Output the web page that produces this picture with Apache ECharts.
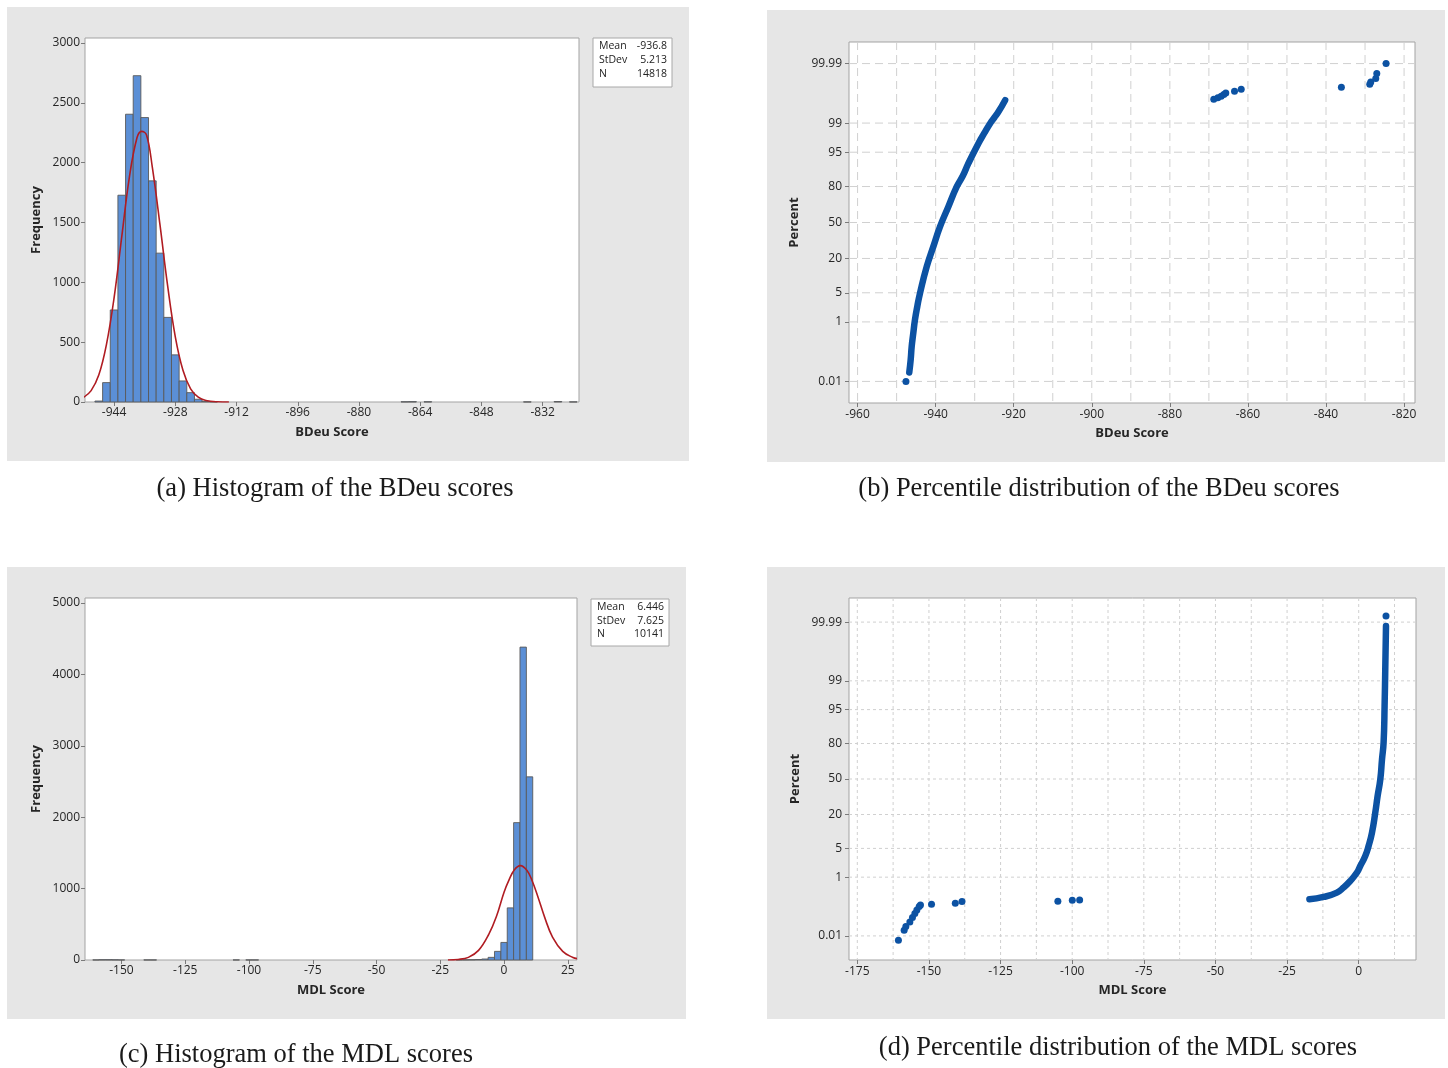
<!DOCTYPE html>
<html><head><meta charset="utf-8">
<script src="https://cdn.jsdelivr.net/npm/echarts@6/dist/echarts.min.js"></script>
<style>
html,body{margin:0;padding:0;background:#fff}
#wrap{position:relative;width:1448px;height:1068px}
.panel{position:absolute;background:#e6e6e6}
#c{position:absolute;left:0;top:0;width:1448px;height:1068px}
</style>
</head><body><div id="wrap">
<div class="panel" style="left:7px;top:7px;width:682px;height:454px"></div>
<div class="panel" style="left:767px;top:10px;width:678px;height:452px"></div>
<div class="panel" style="left:7px;top:567px;width:679px;height:452px"></div>
<div class="panel" style="left:767px;top:567px;width:678px;height:452px"></div>
<div id="c"></div></div>
<script>
// ---------- (a) Histogram of BDeu scores ----------
const bdeuBins   = [-948, -946, -944, -942, -940, -938, -936, -934, -932, -930, -928, -926, -924, -922, -920, -918, -868, -866, -862, -836, -828, -824];
const bdeuCounts = [8, 162, 769, 1728, 2405, 2727, 2377, 1848, 1244, 707, 394, 176, 78, 23, 5, 2, 2, 3, 2, 1, 4, 1];
const bdeuBinWidth = 2;
const bdeuFitX = [-952, -950, -948, -946, -944, -942, -940, -938, -936.8, -935.5, -934, -932, -930, -928, -926, -924, -922, -920, -917, -914];
const bdeuFitY = [38, 95, 225, 480, 870, 1380, 1880, 2210, 2262, 2230, 1960, 1480, 970, 545, 265, 110, 40, 13, 2, 0];
const bdeuHistTicksX = [-944, -928, -912, -896, -880, -864, -848, -832];
const bdeuHistTicksY = [0, 500, 1000, 1500, 2000, 2500, 3000];
const bdeuStatLabels = ['Mean', 'StDev', 'N'];
const bdeuStatValues = ['-936.8', '5.213', '14818'];

// ---------- (b) Percentile plot of BDeu scores ----------
const bdeuCurveScore = [-946.76, -946.40, -946.14, -945.73, -945.30, -944.71, -944.01, -942.29, -940.60, -938.88, -936.75, -934.60, -933.00, -931.62, -929.05, -927.59, -926.05, -924.95, -923.92, -922.20];
const bdeuCurvePct   = [0.0225, 0.0657, 0.185, 0.481, 1.136, 2.46, 4.91, 15.08, 28.6, 46.1, 64.4, 79.9, 86.4, 91.67, 96.79, 98.14, 98.98, 99.30, 99.52, 99.79];
const bdeuDotScore = [-947.61, -868.75, -867.72, -866.85, -866.18, -865.67, -863.44, -861.72, -836.06, -828.79, -828.53, -827.25, -826.99, -824.61];
const bdeuDotPct   = [0.00996, 99.805, 99.823, 99.844, 99.863, 99.879, 99.894, 99.909, 99.923, 99.939, 99.950, 99.962, 99.9755, 99.990];
const bdeuPctTicksX = [-960, -940, -920, -900, -880, -860, -840, -820];
const bdeuPctGridX  = [-960, -950, -940, -930, -920, -910, -900, -890, -880, -870, -860, -850, -840, -830, -820];

// ---------- (c) Histogram of MDL scores ----------
const mdlBins   = [-160, -157.5, -155, -152.5, -150, -140, -137.5, -105, -100, -97.5, -17.5, -15, -12.5, -10, -7.5, -5, -2.5, 0, 2.5, 5, 7.5, 10];
const mdlCounts = [1, 4, 4, 3, 1, 1, 1, 1, 1, 1, 2, 3, 4, 7, 14, 37, 121, 246, 730, 1924, 4382, 2565];
const mdlBinWidth = 2.5;
const mdlFitX = [-22, -18, -14, -10, -6, -3, 0, 2, 4, 6.4, 9, 11, 13, 16, 19, 23, 27, 28.6];
const mdlFitY = [1, 8, 37, 135, 360, 610, 950, 1125, 1262, 1322, 1254, 1110, 915, 590, 320, 120, 35, 19];
const mdlHistTicksX = [-150, -125, -100, -75, -50, -25, 0, 25];
const mdlHistTicksY = [0, 1000, 2000, 3000, 4000, 5000];
const mdlStatLabels = ['Mean', 'StDev', 'N'];
const mdlStatValues = ['6.446', '7.625', '10141'];

// ---------- (d) Percentile plot of MDL scores ----------
const mdlCurveScore = [-17.20, -12.30, -7.61, -5.30, -2.96, -0.61, 0.54, 2.29, 3.45, 4.64, 5.79, 6.60, 7.54, 8.14, 8.69, 9.04, 9.29, 9.53];
const mdlCurvePct   = [0.218, 0.259, 0.355, 0.504, 0.78, 1.33, 1.96, 3.40, 5.61, 10.2, 21.3, 34.3, 49.7, 68.0, 80.59, 95.82, 99.63, 99.9856];
const mdlDotScore = [-160.65, -158.65, -158.06, -156.66, -155.75, -154.91, -154.21, -153.40, -152.95, -149.10, -140.80, -138.46, -105.0, -99.96, -97.40, 9.53];
const mdlDotPct   = [0.00662, 0.01686, 0.0234, 0.0351, 0.0512, 0.0711, 0.0954, 0.1248, 0.1414, 0.149, 0.161, 0.184, 0.188, 0.203, 0.207, 99.9944];
const mdlPctTicksX = [-175, -150, -125, -100, -75, -50, -25, 0];
const mdlPctGridX  = [-175, -162.5, -150, -137.5, -125, -112.5, -100, -87.5, -75, -62.5, -50, -37.5, -25, -12.5, 0, 12.5];

const pctTicks = [0.01, 1, 5, 20, 50, 80, 95, 99, 99.99];

const captions = [
  '(a) Histogram of the BDeu scores',
  '(b) Percentile distribution of the BDeu scores',
  '(c) Histogram of the MDL scores',
  '(d) Percentile distribution of the MDL scores'
];

// ---------- helpers ----------
// inverse standard normal CDF (probability-scale axis transform)
function probit(p) {
  const a=[-3.969683028665376e+01,2.209460984245205e+02,-2.759285104469687e+02,1.383577518672690e+02,-3.066479806614716e+01,2.506628277459239e+00];
  const b=[-5.447609879822406e+01,1.615858368580409e+02,-1.556989798598866e+02,6.680131188771972e+01,-1.328068155288572e+01];
  const c=[-7.784894002430293e-03,-3.223964580411365e-01,-2.400758277161838e+00,-2.549671324055110e+00,4.374664141464968e+00,2.938163982698783e+00];
  const d=[7.784695709041462e-03,3.224671290700398e-01,2.445134137142996e+00,3.754408661907416e+00];
  const pl=0.02425, ph=1-pl; let q, r;
  if (p < pl) { q=Math.sqrt(-2*Math.log(p)); return (((((c[0]*q+c[1])*q+c[2])*q+c[3])*q+c[4])*q+c[5])/((((d[0]*q+d[1])*q+d[2])*q+d[3])*q+1); }
  if (p <= ph) { q=p-0.5; r=q*q; return (((((a[0]*r+a[1])*r+a[2])*r+a[3])*r+a[4])*r+a[5])*q/(((((b[0]*r+b[1])*r+b[2])*r+b[3])*r+b[4])*r+1); }
  q=Math.sqrt(-2*Math.log(1-p)); return -(((((c[0]*q+c[1])*q+c[2])*q+c[3])*q+c[4])*q+c[5])/((((d[0]*q+d[1])*q+d[2])*q+d[3])*q+1);
}
const toZ = pct => probit(pct / 100);
const pctTickZ = pctTicks.map(toZ);
const pctLabel = v => { let s=''; pctTicks.forEach((p,i)=>{ if (Math.abs(pctTickZ[i]-v) < 1e-6) s = String(p); }); return s; };
const plainNum = v => String(v);

const FONT = "'Open Sans','Noto Sans',sans-serif";
const SERIF = "'Liberation Serif','DejaVu Serif',serif";
const LBL = {color:'#262626', fontSize:12, fontFamily:FONT};
const NAME = {color:'#262626', fontSize:13, fontWeight:'bold', fontFamily:FONT};
const TICK = {color:'#7a7a7a', width:1};
const BAR_FILL = '#5b8fd6', BAR_STROKE = '#595959', FIT = '#b01c22', DOT = '#0c52a3';

function histRender(w) {
  return function (params, api) {
    const c = api.value(0), v = api.value(1);
    const p0 = api.coord([c - w / 2, v]);
    const p1 = api.coord([c + w / 2, 0]);
    return { type:'rect', shape:{x:p0[0], y:p0[1], width:p1[0]-p0[0], height:p1[1]-p0[1]},
             style:{fill:BAR_FILL, stroke:BAR_STROKE, lineWidth:0.9} };
  };
}
function gridRender(dash) {
  return function (params, api) {
    const cs = params.coordSys;
    const pt = api.coord([api.value(0), api.value(1)]);
    const style = {stroke:'#d0d0d0', lineWidth:1, lineDash:dash};
    if (api.value(2) === 0) return {type:'line', shape:{x1:pt[0], y1:cs.y, x2:pt[0], y2:cs.y+cs.height}, style};
    return {type:'line', shape:{x1:cs.x, y1:pt[1], x2:cs.x+cs.width, y2:pt[1]}, style};
  };
}
function gridData(xs, refX) {
  return xs.map(x => [x, 0, 0]).concat(pctTickZ.map(z => [refX, z, 1]));
}
function valueAxis(idx, min, max, ticks, name, gap, margin) {
  return {
    gridIndex: idx, type:'value', min, max,
    axisLine:{show:false, onZero:false}, splitLine:{show:false},
    axisTick:{show:true, customValues:ticks, length:4, lineStyle:TICK},
    axisLabel:Object.assign({customValues:ticks, margin, formatter:plainNum}, LBL),
    name, nameLocation:'middle', nameGap:gap, nameTextStyle:NAME
  };
}
function pctYAxis(idx, lim, gap) {
  return {
    gridIndex: idx, type:'value', min:-lim, max:lim,
    axisLine:{show:false, onZero:false}, splitLine:{show:false},
    axisTick:{show:true, customValues:pctTickZ, length:4, lineStyle:TICK},
    axisLabel:Object.assign({customValues:pctTickZ, margin:7, formatter:pctLabel}, LBL),
    name:'Percent', nameLocation:'middle', nameGap:gap, nameTextStyle:NAME
  };
}
function statsBox(x, y, w, h, labels, values, rowY) {
  const els = [{type:'rect', z:10, shape:{x, y, width:w, height:h}, style:{fill:'#fff', stroke:'#a8a8a8', lineWidth:1}}];
  labels.forEach((l, i) => {
    els.push({type:'text', z:11, x:x+6, y:rowY[i], style:{text:l, fill:'#222', fontSize:10.5, fontFamily:FONT, align:'left', verticalAlign:'middle'}});
    els.push({type:'text', z:11, x:x+w-5, y:rowY[i], style:{text:values[i], fill:'#222', fontSize:10.5, fontFamily:FONT, align:'right', verticalAlign:'middle'}});
  });
  return els;
}
function caption(text, x, y) {
  return {type:'text', z:10, x, y, style:{text, fill:'#1a1a1a', fontSize:26.5, fontFamily:SERIF, align:'center', verticalAlign:'middle'}};
}

const gridStyle = {show:true, backgroundColor:'#fff', borderColor:'#a3a3a3', borderWidth:1};

const option = {
  animation:false,
  backgroundColor:'transparent',
  grid:[
    Object.assign({left:85, top:38, width:494, height:364}, gridStyle),
    Object.assign({left:849, top:42, width:566, height:361}, gridStyle),
    Object.assign({left:85, top:598, width:492, height:362}, gridStyle),
    Object.assign({left:849, top:598, width:567, height:362}, gridStyle)
  ],
  xAxis:[
    valueAxis(0, -951.6, -822.5, bdeuHistTicksX, 'BDeu Score', 24, 5),
    valueAxis(1, -962.2, -817.2, bdeuPctTicksX, 'BDeu Score', 24, 6),
    valueAxis(2, -164.3, 28.6, mdlHistTicksX, 'MDL Score', 24, 5),
    valueAxis(3, -177.9, 20.0, mdlPctTicksX, 'MDL Score', 24, 6)
  ],
  yAxis:[
    valueAxis(0, 0, 3042, bdeuHistTicksY, 'Frequency', 42, 5),
    pctYAxis(1, 4.224, 48),
    valueAxis(2, 0, 5070, mdlHistTicksY, 'Frequency', 42, 5),
    pctYAxis(3, 4.29, 47)
  ],
  series:[
    // (a)
    {type:'custom', xAxisIndex:0, yAxisIndex:0, encode:{x:0, y:1}, renderItem:histRender(bdeuBinWidth),
     data:bdeuBins.map((b,i)=>[b, bdeuCounts[i]]), z:2},
    {type:'line', xAxisIndex:0, yAxisIndex:0, smooth:0.4, showSymbol:false, z:3,
     lineStyle:{color:FIT, width:1.6}, data:bdeuFitX.map((x,i)=>[x, bdeuFitY[i]])},
    // (b)
    {type:'custom', xAxisIndex:1, yAxisIndex:1, encode:{x:0, y:1}, renderItem:gridRender([8,5]),
     data:gridData(bdeuPctGridX, -900), z:1, silent:true},
    {type:'line', xAxisIndex:1, yAxisIndex:1, smooth:0.5, showSymbol:false, z:3,
     lineStyle:{color:DOT, width:6.5, cap:'round', join:'round'},
     data:bdeuCurveScore.map((s,i)=>[s, toZ(bdeuCurvePct[i])])},
    {type:'scatter', xAxisIndex:1, yAxisIndex:1, symbolSize:7, z:4, itemStyle:{color:DOT, opacity:1},
     data:bdeuDotScore.map((s,i)=>[s, toZ(bdeuDotPct[i])])},
    // (c)
    {type:'custom', xAxisIndex:2, yAxisIndex:2, encode:{x:0, y:1}, renderItem:histRender(mdlBinWidth),
     data:mdlBins.map((b,i)=>[b, mdlCounts[i]]), z:2},
    {type:'line', xAxisIndex:2, yAxisIndex:2, smooth:0.4, showSymbol:false, z:3,
     lineStyle:{color:FIT, width:1.6}, data:mdlFitX.map((x,i)=>[x, mdlFitY[i]])},
    // (d)
    {type:'custom', xAxisIndex:3, yAxisIndex:3, encode:{x:0, y:1}, renderItem:gridRender([3,3]),
     data:gridData(mdlPctGridX, -80), z:1, silent:true},
    {type:'line', xAxisIndex:3, yAxisIndex:3, smooth:0.5, showSymbol:false, z:3,
     lineStyle:{color:DOT, width:6.5, cap:'round', join:'round'},
     data:mdlCurveScore.map((s,i)=>[s, toZ(mdlCurvePct[i])])},
    {type:'scatter', xAxisIndex:3, yAxisIndex:3, symbolSize:7, z:4, itemStyle:{color:DOT, opacity:1},
     data:mdlDotScore.map((s,i)=>[s, toZ(mdlDotPct[i])])}
  ],
  graphic:{elements:[
    ...statsBox(593, 38, 79, 49, bdeuStatLabels, bdeuStatValues, [46.5, 60.5, 74.5]),
    ...statsBox(591, 599, 78, 47, mdlStatLabels, mdlStatValues, [607.5, 621, 634.5]),
    caption(captions[0], 335, 489),
    caption(captions[1], 1099, 489),
    caption(captions[2], 296, 1055),
    caption(captions[3], 1118, 1048)
  ]}
};

const chart = echarts.init(document.getElementById('c'), null, {renderer:'canvas'});
chart.setOption(option);
</script></body></html>
